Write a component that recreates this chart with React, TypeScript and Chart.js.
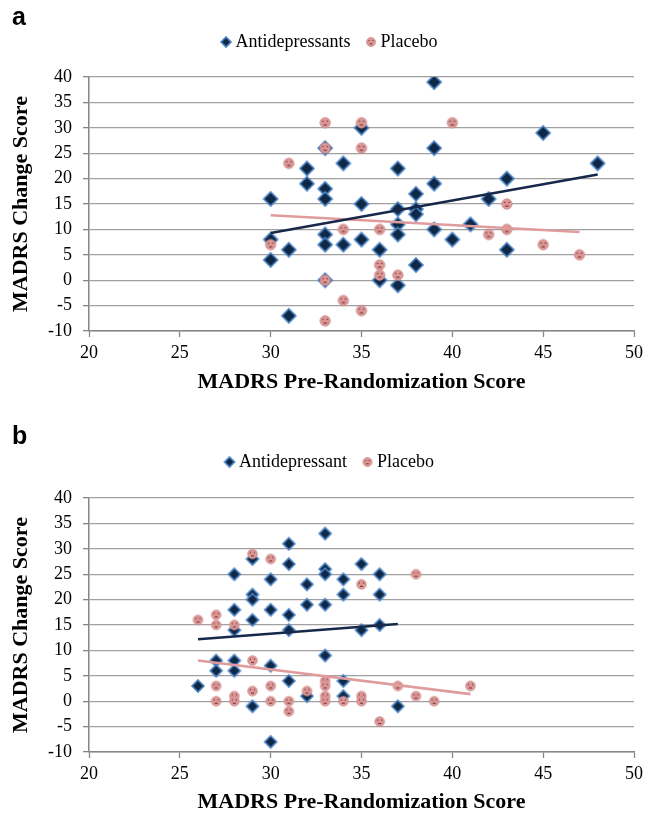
import { useEffect, useRef } from 'react';
import { Chart, registerables } from 'chart.js';

Chart.register(...registerables);

// ---------- data ----------
const xTickLabels = [20, 25, 30, 35, 40, 45, 50];
const yTickLabels = [-10, -5, 0, 5, 10, 15, 20, 25, 30, 35, 40];

const seriesLabelsA = ['Antidepressants', 'Placebo'];
const seriesLabelsB = ['Antidepressant', 'Placebo'];

const antidepressantsA: [number, number][] = [
  [39, 39], [45, 29], [48, 23], [35, 30], [33, 26], [39, 26], [32, 22], [34, 23], [37, 22],
  [32, 19], [33, 18], [39, 19], [43, 20], [30, 16], [33, 16], [38, 17], [42, 16], [35, 15],
  [37, 14], [38, 14], [38, 13], [37, 11], [41, 11], [30, 8], [33, 9], [33, 7], [34, 7],
  [35, 8], [37, 9], [39, 10], [40, 8], [31, 6], [36, 6], [43, 6], [30, 4], [38, 3],
  [33, 0], [36, 0], [37, -1], [31, -7],
];
const placeboA: [number, number][] = [
  [33, 31], [35, 31], [40, 31], [33, 26], [35, 26], [31, 23], [34, 10], [36, 10], [30, 7],
  [36, 3], [36, 1], [37, 1], [33, 0], [34, -4], [35, -6], [33, -8], [43, 15], [43, 10],
  [42, 9], [45, 7], [47, 5],
];
const antidepressantTrendA: [number, number][] = [[30, 9.3], [48, 20.8]];
const placeboTrendA: [number, number][] = [[30, 12.8], [47, 9.5]];

const antidepressantsB: [number, number][] = [
  [31, 31], [29, 28], [31, 27], [28, 25], [30, 24], [32, 23], [29, 21], [29, 20], [28, 18],
  [30, 18], [32, 19], [31, 17], [29, 16], [31, 14], [28, 14], [27, 8], [28, 8], [27, 6],
  [28, 6], [30, 7], [26, 3], [31, 4], [29, -1], [30, -8], [32, 1], [33, 33], [35, 27],
  [33, 26], [33, 25], [36, 25], [34, 24], [34, 21], [36, 21], [33, 19], [36, 15], [35, 14],
  [33, 9], [34, 4], [34, 1], [37, -1],
];
const placeboB: [number, number][] = [
  [26, 16], [27, 17], [27, 15], [28, 15], [29, 29], [30, 28], [29, 8], [27, 3], [27, 0],
  [28, 1], [28, 0], [29, 2], [30, 3], [30, 0], [31, 0], [31, -2], [32, 2], [33, 4], [33, 3],
  [33, 1], [33, 0], [34, 0], [35, 1], [35, 0], [36, -4], [37, 3], [38, 1], [39, 0], [41, 3],
  [35, 23], [38, 25],
];
const antidepressantTrendB: [number, number][] = [[26, 12.2], [37, 15.2]];
const placeboTrendB: [number, number][] = [[26, 8.0], [41, 1.4]];

const xTitle = 'MADRS Pre-Randomization Score';
const yTitle = 'MADRS Change Score';

// ---------- markers ----------
function makeDiamond(r: number): HTMLCanvasElement {
  const s = Math.ceil(2 * r + 4);
  const c = document.createElement('canvas');
  c.width = s;
  c.height = s;
  const g = c.getContext('2d')!;
  const m = s / 2;
  g.beginPath();
  g.moveTo(m, m - r);
  g.lineTo(m + r, m);
  g.lineTo(m, m + r);
  g.lineTo(m - r, m);
  g.closePath();
  g.fillStyle = '#0f2846';
  g.fill();
  g.lineWidth = 1.6;
  g.strokeStyle = '#4f86c6';
  g.stroke();
  return c;
}

function makeDotCircle(r: number): HTMLCanvasElement {
  const s = Math.ceil(2 * r + 3);
  const c = document.createElement('canvas');
  c.width = s;
  c.height = s;
  const g = c.getContext('2d')!;
  const m = s / 2;
  g.beginPath();
  g.arc(m, m, r, 0, Math.PI * 2);
  g.fillStyle = '#dc9797';
  g.fill();
  g.lineWidth = 0.8;
  g.strokeStyle = '#d08a8a';
  g.stroke();
  g.fillStyle = '#6e2f2f';
  const d = Math.max(1.1, r * 0.24);
  g.fillRect(m - r * 0.42 - d / 2, m - r * 0.3 - d / 2, d, d);
  g.fillRect(m + r * 0.42 - d / 2, m - r * 0.3 - d / 2, d, d);
  g.fillRect(m - r * 0.3, m + r * 0.3, r * 0.6, d * 0.9);
  return c;
}

const toXY = (arr: [number, number][]) => arr.map(([x, y]) => ({ x, y }));

interface PanelCfg {
  labels: string[];
  anti: [number, number][];
  placebo: [number, number][];
  antiTrend: [number, number][];
  placeboTrend: [number, number][];
  height: number;
  padLeft: number;
  padTop: number;
  spacer: number;
  plotBottom: number;
  titleBottomPad: number;
  diamondR: number;
  circleR: number;
}

const serif = 'Liberation Serif, Times New Roman, serif';

function buildConfig(p: PanelCfg): any {
  const diamond = makeDiamond(p.diamondR);
  const circle = makeDotCircle(p.circleR);
  const legendDiamond = makeDiamond(5);
  const legendCircle = makeDotCircle(4.5);
  const legendPad = 20;
  return {
    type: 'scatter',
    data: {
      datasets: [
        {
          label: p.labels[0],
          data: toXY(p.anti),
          pointStyle: diamond,
          pointRadius: 6,
          pointHoverRadius: 6,
          order: 2,
        },
        {
          label: p.labels[1],
          data: toXY(p.placebo),
          pointStyle: circle,
          pointRadius: 5,
          pointHoverRadius: 5,
          order: 1,
        },
        {
          label: 'trend-anti',
          data: toXY(p.antiTrend),
          showLine: true,
          borderColor: '#17294a',
          borderWidth: 2.6,
          pointRadius: 0,
          pointHoverRadius: 0,
          order: 0,
        },
        {
          label: 'trend-placebo',
          data: toXY(p.placeboTrend),
          showLine: true,
          borderColor: '#e09c9c',
          borderWidth: 2.6,
          pointRadius: 0,
          pointHoverRadius: 0,
          order: 0,
        },
      ],
    },
    options: {
      animation: false,
      responsive: false,
      maintainAspectRatio: false,
      devicePixelRatio: 1,
      events: [],
      layout: { padding: { left: p.padLeft, right: 22, top: p.padTop, bottom: 0 } },
      plugins: {
        tooltip: { enabled: false },
        title: { display: false },
        subtitle: {
          display: true,
          text: '',
          position: 'top',
          weight: 500,
          font: { size: 1, lineHeight: 1 },
          padding: { top: 0, bottom: p.spacer - 1 },
        },
        legend: {
          display: true,
          position: 'top',
          labels: {
            usePointStyle: true,
            pointStyleWidth: 1,
            padding: legendPad,
            color: '#000',
            font: { family: serif, size: 18 },
            filter: (item: any) => item.datasetIndex < 2,
            sort: (a: any, b: any) => a.datasetIndex - b.datasetIndex,
            generateLabels: (chart: any) =>
              Chart.defaults.plugins.legend.labels.generateLabels(chart).map((l: any) => ({
                ...l,
                pointStyle: l.datasetIndex === 0 ? legendDiamond : legendCircle,
              })),
          },
        },
      },
      scales: {
        x: {
          type: 'linear',
          min: xTickLabels[0],
          max: xTickLabels[xTickLabels.length - 1],
          ticks: {
            stepSize: xTickLabels[1] - xTickLabels[0],
            color: '#000',
            font: { family: serif, size: 18 },
            padding: 5,
          },
          grid: {
            drawOnChartArea: false,
            drawTicks: true,
            tickLength: 6,
            tickColor: '#868686',
            tickWidth: 1.3,
          },
          border: { display: true, color: '#868686', width: 1.5 },
          title: {
            display: true,
            text: xTitle,
            color: '#000',
            font: { family: serif, size: 22, weight: 'bold', lineHeight: 1 },
            padding: { top: 0, bottom: p.titleBottomPad },
          },
          afterFit: (scale: any) => {
            scale.height = p.height - p.plotBottom;
          },
        },
        y: {
          type: 'linear',
          min: yTickLabels[0],
          max: yTickLabels[yTickLabels.length - 1],
          ticks: {
            stepSize: yTickLabels[1] - yTickLabels[0],
            color: '#000',
            font: { family: serif, size: 18 },
            padding: 11,
          },
          grid: {
            drawOnChartArea: true,
            drawTicks: true,
            tickLength: 6,
            color: '#a0a0a0',
            lineWidth: 1.3,
            tickColor: '#868686',
          },
          border: { display: true, color: '#868686', width: 1.5 },
          title: {
            display: true,
            text: yTitle,
            color: '#000',
            font: { family: serif, size: 22, weight: 'bold', lineHeight: 1 },
            padding: { top: 21 - 11 - p.padLeft, bottom: 0 },
          },
          afterFit: (scale: any) => {
            scale.width = 89 - p.padLeft;
          },
        },
      },
    },
  };
}

function Panel({ top, cfg }: { top: number; cfg: PanelCfg }) {
  const ref = useRef<HTMLCanvasElement>(null);
  useEffect(() => {
    const chart = new Chart(ref.current!, buildConfig(cfg));
    return () => chart.destroy();
  }, []);
  return (
    <canvas
      ref={ref}
      width={656}
      height={cfg.height}
      style={{ position: 'absolute', left: 0, top, width: 656, height: cfg.height, display: 'block' }}
    />
  );
}

const panelA: PanelCfg = {
  labels: seriesLabelsA,
  anti: antidepressantsA,
  placebo: placeboA,
  antiTrend: antidepressantTrendA,
  placeboTrend: placeboTrendA,
  height: 400,
  padLeft: 29,
  padTop: 13,
  spacer: 16,
  plotBottom: 331,
  titleBottomPad: 7,
  diamondR: 7,
  circleR: 5.2,
};

const panelB: PanelCfg = {
  labels: seriesLabelsB,
  anti: antidepressantsB,
  placebo: placeboB,
  antiTrend: antidepressantTrendB,
  placeboTrend: placeboTrendB,
  height: 393,
  padLeft: 29,
  padTop: 13,
  spacer: 17,
  plotBottom: 332,
  titleBottomPad: 0,
  diamondR: 6,
  circleR: 4.8,
};

const letterStyle: React.CSSProperties = {
  position: 'absolute',
  left: 12,
  fontFamily: 'Liberation Sans, Arial, sans-serif',
  fontWeight: 'bold',
  fontSize: 25,
  lineHeight: '25px',
  color: '#000',
};

export default function App() {
  return (
    <div style={{ position: 'absolute', left: 0, top: 0, width: 656, height: 813, background: '#fff', overflow: 'hidden' }}>
      <Panel top={0} cfg={panelA} />
      <Panel top={420} cfg={panelB} />
      <div style={{ ...letterStyle, top: 4 }}>a</div>
      <div style={{ ...letterStyle, top: 423 }}>b</div>
    </div>
  );
}
